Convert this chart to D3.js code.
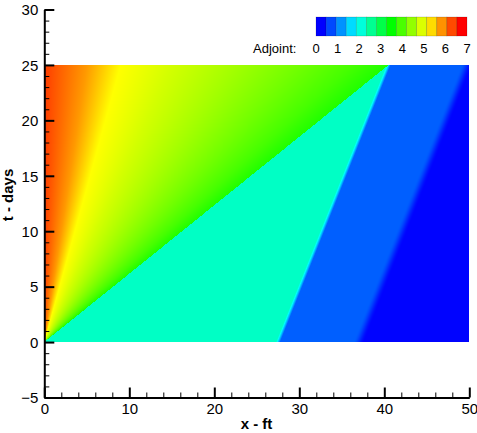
<!DOCTYPE html>
<html><head><meta charset="utf-8">
<script src="https://cdn.jsdelivr.net/npm/d3@7"></script>
<style>body{margin:0;background:#fff}svg{display:block}text{font-family:"Liberation Sans",Arial,sans-serif}</style>
</head><body>
<svg id="chart" width="477" height="433"></svg>
<script>
// ---- data ----
const xTicks = [0, 10, 20, 30, 40, 50];
const yTicks = [-5, 0, 5, 10, 15, 20, 25, 30];
const legendLevels = [0,0.5,1,1.5,2,2.5,3,3.5,4,4.5,5,5.5,6,6.5,7];
const legendLabels = [0,1,2,3,4,5,6,7];
const colorStops = [0, 1.75, 3.5, 5.25, 7];
const colorNames = ["#0000ff","#00ffff","#00ff00","#ffff00","#ff0000"];
// field extent
const fieldX = [0, 50];
const fieldT = [0, 25];
// expansion fan: value as function of slope x/t
const fanSlope = [0, 0.04, 0.2, 0.36, 0.6, 0.9, 1.2, 1.45, 1.62];
const fanValue = [6.6, 6.45, 5.95, 5.25, 4.95, 4.62, 4.28, 3.98, 3.72];
// boundaries (x at t=0, x at t=25): fan edge, cyan/blue front, blue/dark front
const boundaryBottomX = [0, 27.5, 37.0];
const boundaryTopX = [40.5, 40.5, 49.7];
const boundaryWidth = [0.0, 0.25, 0.65];
// plateau values: cyan region, blue region, dark blue region, front stripe
const regionValue = [2.15, 0.65, 0.02];
const stripeValue = 1.45;

const svg = d3.select("#chart");
const x = d3.scaleLinear().domain([0, 50]).range([44.3, 469.3]);
const y = d3.scaleLinear().domain([-5, 30]).range([397.5, 9.5]);
const color = d3.scaleLinear().domain(colorStops).range(colorNames).clamp(true);
const fan = d3.scaleLinear().domain(fanSlope).range(fanValue).clamp(true);

function boundaryAt(i, t) { return boundaryBottomX[i] + (boundaryTopX[i] - boundaryBottomX[i]) * t / fieldT[1]; }
function smooth(a, b, d, w) {
  if (w <= 0) return d < 0 ? a : b;
  const u = Math.max(0, Math.min(1, (d + w) / (2 * w)));
  const s = u * u * (3 - 2 * u);
  return a + (b - a) * s;
}
function field(xv, tv) {
  const b0 = boundaryAt(0, tv);
  if (xv <= b0) return fan(tv > 0 ? xv / tv : 0);
  const b1 = boundaryAt(1, tv), b2 = boundaryAt(2, tv);
  const d1 = xv - b1, d2 = xv - b2;
  if (d2 > -boundaryWidth[2]) return smooth(regionValue[1], regionValue[2], d2, boundaryWidth[2]);
  if (Math.abs(d1) < boundaryWidth[1]) {
    const u = (d1 + boundaryWidth[1]) / (2 * boundaryWidth[1]);
    return u < 0.5 ? regionValue[0] + (stripeValue - regionValue[0]) * (u / 0.5)
                   : stripeValue + (regionValue[1] - stripeValue) * ((u - 0.5) / 0.5);
  }
  return d1 < 0 ? regionValue[0] : regionValue[1];
}

// raster of field
const px0 = Math.round(x(fieldX[0])), px1 = Math.round(x(fieldX[1]));
const py0 = Math.round(y(fieldT[1])), py1 = Math.round(y(fieldT[0]));
const W = px1 - px0, H = py1 - py0;
const cv = document.createElement("canvas"); cv.width = W; cv.height = H;
const ctx = cv.getContext("2d");
const img = ctx.createImageData(W, H);
for (let j = 0; j < H; j++) {
  const tv = y.invert(py0 + j + 0.5);
  for (let i = 0; i < W; i++) {
    const xv = x.invert(px0 + i + 0.5);
    const c = d3.rgb(color(field(xv, tv)));
    const k = (j * W + i) * 4;
    img.data[k] = c.r; img.data[k+1] = c.g; img.data[k+2] = c.b; img.data[k+3] = 255;
  }
}
ctx.putImageData(img, 0, 0);
svg.append("image").attr("x", px0).attr("y", py0).attr("width", W).attr("height", H)
  .attr("preserveAspectRatio", "none").attr("href", cv.toDataURL());

// axes
const fs = 15;
const yMinor = d3.range(-5, 30.01, 1).filter(v => v % 5 !== 0);
const xMinor = d3.range(0, 50.01, 2).filter(v => v % 10 !== 0);
svg.append("g").attr("transform", `translate(${x(0)},0)`)
  .call(d3.axisLeft(y).tickValues(yMinor).tickSize(-5).tickFormat(""))
  .call(g => g.select(".domain").remove())
  .call(g => g.selectAll("line").attr("stroke", "#000").attr("stroke-width", 1));
svg.append("g").attr("transform", `translate(0,${y(-5)})`)
  .call(d3.axisBottom(x).tickValues(xMinor).tickSize(-5).tickFormat(""))
  .call(g => g.select(".domain").remove())
  .call(g => g.selectAll("line").attr("stroke", "#000").attr("stroke-width", 1));
const ya = svg.append("g").attr("transform", `translate(${x(0)},0)`)
  .call(d3.axisLeft(y).tickValues(yTicks).tickSize(-10).tickSizeOuter(0).tickPadding(6).tickFormat(d3.format("d")));
const xa = svg.append("g").attr("transform", `translate(0,${y(-5)})`)
  .call(d3.axisBottom(x).tickValues(xTicks).tickSize(-10).tickSizeOuter(0).tickPadding(6).tickFormat(d3.format("d")));
[ya, xa].forEach(g => {
  g.select(".domain").attr("stroke", "#000").attr("stroke-width", 2);
  g.selectAll("line").attr("stroke", "#000").attr("stroke-width", 2);
  g.selectAll("text").attr("font-size", fs).attr("fill", "#000").attr("font-family", '"Liberation Sans",Arial,sans-serif');
});
ya.selectAll("text").attr("dy", "0.35em");
xa.selectAll("text").attr("y", 6).attr("dy", "0.71em");

svg.append("text").attr("x", 256.5).attr("y", 429).attr("text-anchor", "middle")
  .attr("font-size", fs).attr("font-weight", "bold").text("x - ft");
svg.append("text").attr("transform", "translate(12.5,195) rotate(-90)").attr("text-anchor", "middle")
  .attr("font-size", fs).attr("font-weight", "bold").text("t - days");

// legend
const lx = d3.scaleLinear().domain([0, 7]).range([316, 467]);
const bw = (lx(7) - lx(0)) / legendLevels.length;
svg.append("g").selectAll("rect").data(legendLevels).join("rect")
  .attr("x", (d, i) => lx(0) + i * bw).attr("y", 17).attr("width", bw).attr("height", 19)
  .attr("fill", d => color(d)).attr("stroke", "rgba(0,0,0,0.25)").attr("stroke-width", 0.6);
svg.append("g").selectAll("text").data(legendLabels).join("text")
  .attr("x", d => lx(d)).attr("y", 53).attr("text-anchor", "middle").attr("font-size", 13).text(d => d);
svg.append("text").attr("x", 253).attr("y", 53).attr("font-size", 13).text("Adjoint:");
</script>
</body></html>
